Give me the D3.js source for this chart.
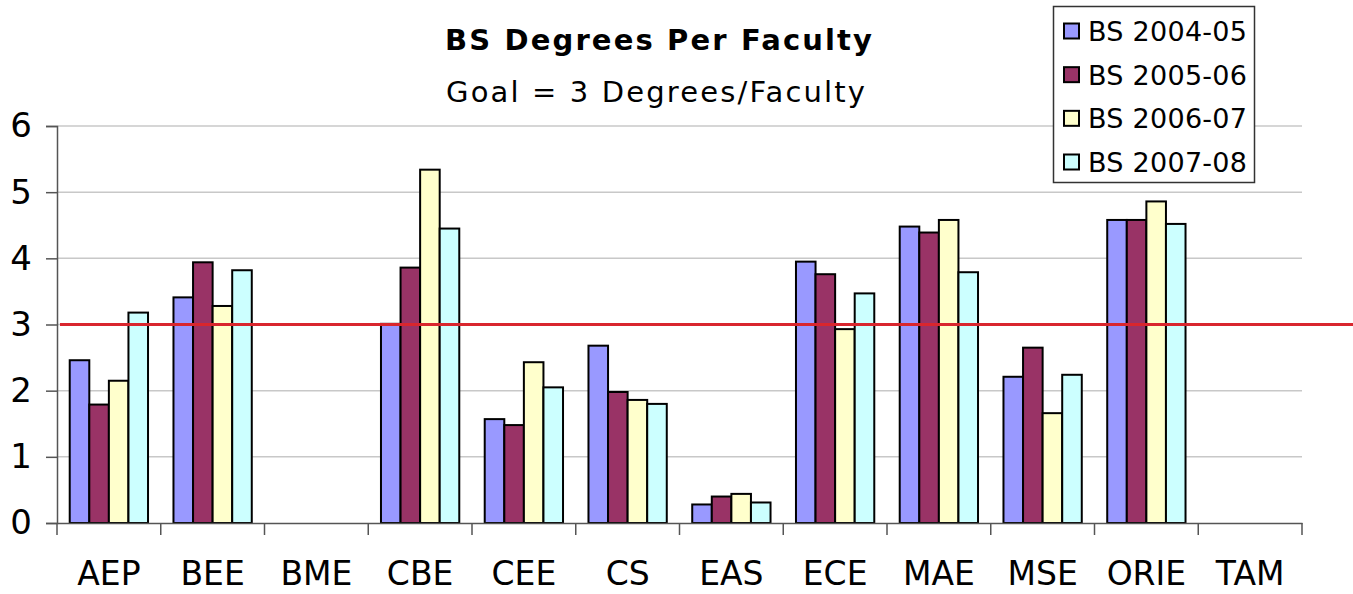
<!DOCTYPE html>
<html><head><meta charset="utf-8">
<script src="https://cdn.jsdelivr.net/npm/d3@7"></script>
<style>body{margin:0;background:#fff}svg{display:block}</style>
</head><body>
<svg id="c" width="1353" height="594"></svg>
<script>
const categories = ["AEP","BEE","BME","CBE","CEE","CS","EAS","ECE","MAE","MSE","ORIE","TAM"];
const seriesNames = ["BS 2004-05","BS 2005-06","BS 2006-07","BS 2007-08"];
const bs0405 = [2.46,3.41,null,3.01,1.57,2.68,0.28,3.95,4.48,2.21,4.58,null];
const bs0506 = [1.79,3.94,null,3.86,1.48,1.98,0.40,3.76,4.39,2.65,4.58,null];
const bs0607 = [2.15,3.28,null,5.34,2.43,1.86,0.44,2.93,4.58,1.66,4.86,null];
const bs0708 = [3.18,3.82,null,4.45,2.05,1.80,0.31,3.47,3.79,2.24,4.52,null];
const yTicks = [0,1,2,3,4,5,6];
const goal = 3;
const colors = ["#9999FF","#993366","#FFFFCC","#CCFFFF"];
const values = [bs0405, bs0506, bs0607, bs0708];

const svg = d3.select("#c");
const L = 57, R = 1302, T = 126, B = 523;
const font = "'DejaVu Sans', Verdana, sans-serif";

const y = d3.scaleLinear().domain([0,6]).range([B,T]);
const x0 = d3.scaleBand().domain(categories).range([L,R]).paddingInner(0).paddingOuter(0);
const x1 = d3.scaleBand().domain(seriesNames).range([0,x0.bandwidth()]).paddingInner(0).paddingOuter(0.65);

// gridlines
svg.append("g").selectAll("line").data(yTicks.filter(d=>d>0)).join("line")
  .attr("x1",L).attr("x2",R).attr("y1",d=>y(d)).attr("y2",d=>y(d))
  .attr("stroke","#c8c8c8").attr("stroke-width",1.5);

// bars
const rows = [];
categories.forEach((c,i)=>seriesNames.forEach((s,j)=>{ if(values[j][i]!=null) rows.push({c,s,j,v:values[j][i]}); }));
svg.append("g").selectAll("rect").data(rows).join("rect")
  .attr("x",d=>x0(d.c)+x1(d.s)).attr("width",x1.bandwidth())
  .attr("y",d=>y(d.v)).attr("height",d=>y(0)-y(d.v))
  .attr("fill",d=>colors[d.j]).attr("stroke","#000").attr("stroke-width",2);

// y axis
const ya = svg.append("g").attr("transform",`translate(${L},0)`)
  .call(d3.axisLeft(y).tickValues(yTicks).tickSize(11).tickPadding(14).tickFormat(d3.format("d")));
ya.select(".domain").attr("stroke","#555").attr("stroke-width",1.5);
ya.selectAll(".tick line").attr("stroke","#555").attr("stroke-width",1.5);
ya.selectAll("text").attr("font-family",font).attr("font-size",34).attr("fill","#000");

// x axis
const xa = svg.append("g").attr("transform",`translate(0,${B})`)
  .call(d3.axisBottom(x0).tickSize(0).tickPadding(39));
xa.select(".domain").attr("stroke","#555").attr("stroke-width",1.5);
xa.selectAll("text").attr("font-family",font).attr("font-size",33).attr("fill","#000");
const bounds = categories.map(c=>x0(c)).concat([R]);
svg.append("g").selectAll("line").data(bounds).join("line")
  .attr("x1",d=>d).attr("x2",d=>d).attr("y1",B).attr("y2",B+12)
  .attr("stroke","#555").attr("stroke-width",1.5);

// goal line
svg.append("line").attr("x1",60).attr("x2",1353).attr("y1",y(goal)).attr("y2",y(goal))
  .attr("stroke","#D9262E").attr("stroke-width",3);

// titles
svg.append("text").attr("x",445).attr("y",50)
  .attr("font-family",font).attr("font-weight","bold").attr("font-size",29)
  .attr("textLength",427).attr("lengthAdjust","spacing").text("BS Degrees Per Faculty");
svg.append("text").attr("x",446).attr("y",102)
  .attr("font-family",font).attr("font-size",29)
  .attr("textLength",419).attr("lengthAdjust","spacing").text("Goal = 3 Degrees/Faculty");

// legend
const lg = svg.append("g");
lg.append("rect").attr("x",1053.5).attr("y",6.5).attr("width",201).attr("height",176)
  .attr("fill","#fff").attr("stroke","#333").attr("stroke-width",1.5);
const ly = d3.scalePoint().domain(seriesNames).range([31,162]);
seriesNames.forEach((s,j)=>{
  lg.append("rect").attr("x",1064).attr("y",ly(s)-7.5).attr("width",15).attr("height",15)
    .attr("fill",colors[j]).attr("stroke","#000").attr("stroke-width",2);
  lg.append("text").attr("x",1088).attr("y",ly(s)+10).attr("font-family",font).attr("font-size",27)
    .attr("textLength",159).attr("lengthAdjust","spacing").text(s);
});
</script>
</body></html>
